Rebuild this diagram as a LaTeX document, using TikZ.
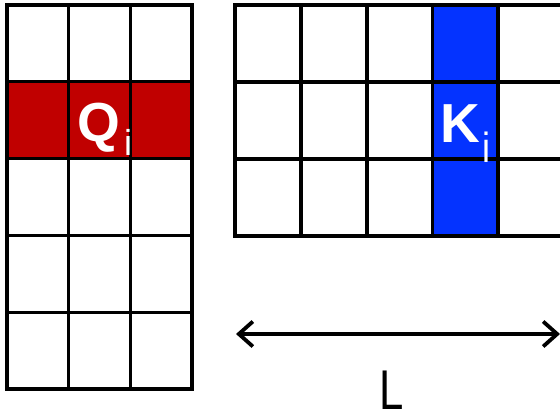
\documentclass[tikz,border=0pt]{standalone}
\usepackage{fontspec}
\setmainfont{Liberation Sans}
\usetikzlibrary{arrows.meta}
\definecolor{qred}{HTML}{C00000}
\definecolor{kblue}{HTML}{0433FF}

\begin{document}
\begin{tikzpicture}[x=1pt,y=-1pt,
  gridline/.style={line width=3.1pt, black},
  biglabel/.style={inner sep=0pt, text=white, font=\fontsize{55}{55}\selectfont\bfseries, anchor=base west},
  sublabel/.style={inner sep=0pt, text=white, font=\fontsize{36}{36}\selectfont, anchor=base},
  dimline/.style={line width=3.8pt, black, {Straight Barb[length=14pt,width=25pt]}-{Straight Barb[length=14pt,width=25pt]}}
]
\useasboundingbox (0,0) rectangle (560,413);
\clip (0,0) rectangle (560,413);

% Q matrix: 5 rows x 3 columns, row i highlighted
\fill[qred] (7,81.8) rectangle (192,158.6);
\foreach \x in {68.7,130.3} \draw[gridline] (\x,5) -- (\x,389);
\foreach \y in {81.8,158.6,235.4,312.2} \draw[gridline] (7,\y) -- (192,\y);
\draw[gridline] (7,5) rectangle (192,389);

% K matrix: 3 rows, columns running past the right edge, column i highlighted
\fill[kblue] (432.5,5) rectangle (498,236);
\foreach \x in {301,367,432.5,498,564} \draw[gridline] (\x,5) -- (\x,236);
\foreach \y in {82,159} \draw[gridline] (235,\y) -- (570,\y);
\draw[gridline] (570,5) -- (235,5) -- (235,236) -- (570,236);

% labels
\node[biglabel] (qlabel) at (77,141) {Q};
\node[sublabel] (qsub) at (128,155.7) {i};
\node[biglabel] (klabel) at (440.5,142.5) {K};
\node[sublabel, yscale=1.17] (ksub) at (486,162) {i};

% length of the sequence
\coordinate (lend) at (236,334);
\coordinate (rend) at (560,334);
\draw[dimline] (lend) -- (rend);
\node[inner sep=0pt, font=\fontsize{56}{56}\selectfont, anchor=base west, xscale=0.78] (llabel) at (379,409) {L};
\end{tikzpicture}
\end{document}
